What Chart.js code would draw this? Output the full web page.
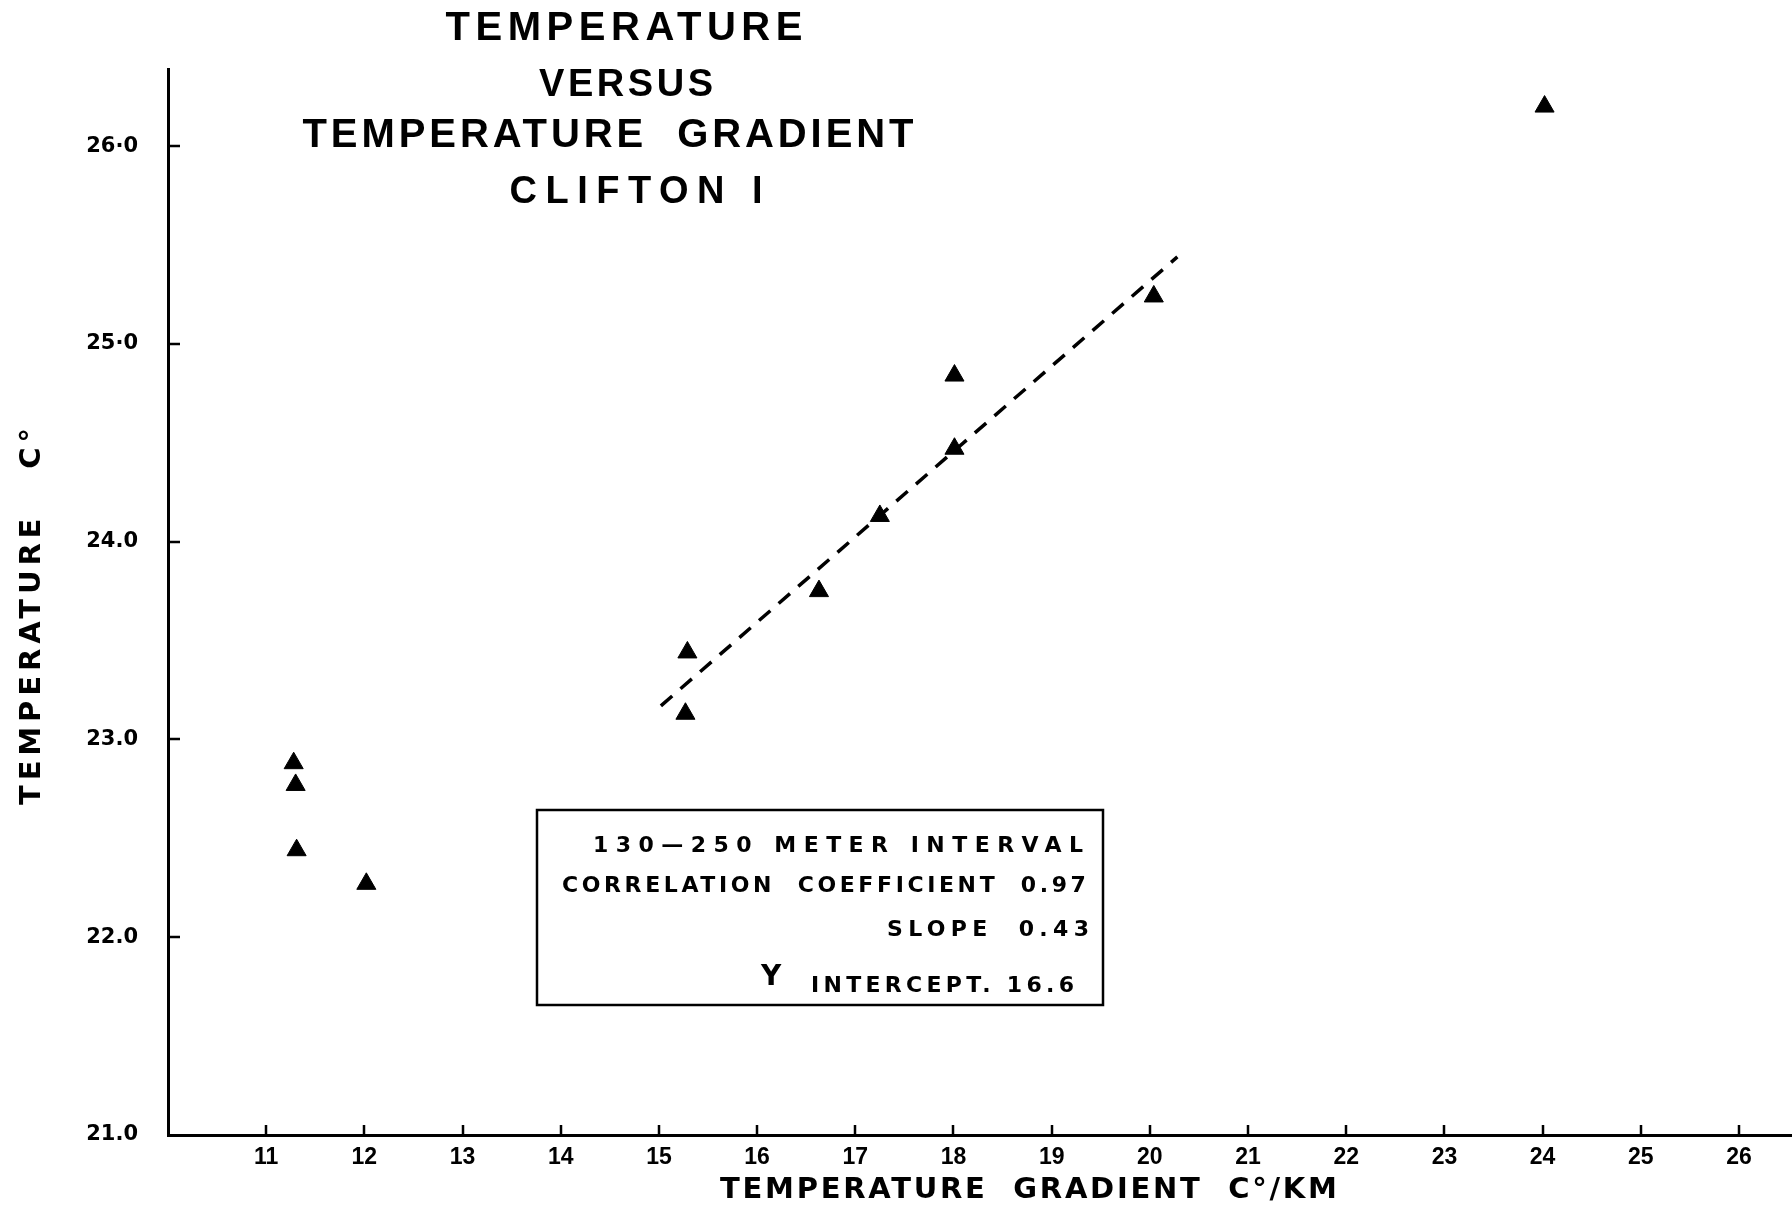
<!DOCTYPE html>
<html>
<head>
<meta charset="utf-8">
<script src="https://cdn.jsdelivr.net/npm/chart.js@4.4.1/dist/chart.umd.min.js"></script>
<style>
html,body{margin:0;padding:0;background:#fff;}
#wrap{width:1792px;height:1216px;position:relative;}
</style>
</head>
<body>
<div id="wrap"><canvas id="c" width="1792" height="1216"></canvas></div>
<script>
// ---- data ----
const gradientX = [11.28, 11.30, 11.31, 12.02, 15.27, 15.29, 16.63, 17.25, 18.01, 18.01, 20.04, 24.02];
const temperatureY = [22.88, 22.77, 22.44, 22.27, 23.13, 23.44, 23.75, 24.13, 24.47, 24.84, 25.24, 26.20];
const fitLineX = [15.02, 20.28];
const fitLineY = [23.17, 25.44];
const xTickValues = [11, 12, 13, 14, 15, 16, 17, 18, 19, 20, 21, 22, 23, 24, 25, 26];
const xTickLabels = ['11', '12', '13', '14', '15', '16', '17', '18', '19', '20', '21', '22', '23', '24', '25', '26'];
const yTickValues = [21, 22, 23, 24, 25, 26];
const yTickLabels = ['21.0', '22.0', '23.0', '24.0', '25·0', '26·0'];
const titleLines = ['TEMPERATURE', 'VERSUS', 'TEMPERATURE  GRADIENT', 'CLIFTON I'];
const statLines = ['130—250 METER INTERVAL', 'CORRELATION  COEFFICIENT  0.97', 'SLOPE  0.43', 'Y', 'INTERCEPT. 16.6'];
const xAxisTitle = 'TEMPERATURE  GRADIENT  C°/KM';
const yAxisTitle = 'TEMPERATURE   C°';

// ---- layout / style ----
const FONT = '"Liberation Sans", "DejaVu Sans", sans-serif';
const HEAVY = '"DejaVu Sans", "Liberation Sans", sans-serif';
const titleLayout = [
  {cx: 624, cy: 29, w: 357, size: 40},
  {cx: 626, cy: 86, w: 174, size: 38},
  {cx: 608, cy: 136, w: 611, size: 40},
  {cx: 636, cy: 193, w: 253, size: 38}
];
const statLayout = [
  {l: 593, r: 1083, cy: 846, size: 22},
  {l: 562, r: 1086, cy: 886, size: 22},
  {l: 887, r: 1089, cy: 930, size: 22},
  {l: 761, r: 778, cy: 978, size: 28},
  {l: 811, r: 1074, cy: 986, size: 22}
];
const box = {x: 537, y: 810, w: 566, h: 195};

function fitText(ctx, text, left, cy, size, width, family) {
  ctx.font = 'bold ' + size + 'px ' + (family || FONT);
  if ('letterSpacing' in ctx) ctx.letterSpacing = '0px';
  const w0 = ctx.measureText(text).width;
  let sp = 0;
  if (text.length > 1) sp = (width - w0) / (text.length - 1);
  if ('letterSpacing' in ctx) ctx.letterSpacing = sp.toFixed(2) + 'px';
  ctx.textAlign = 'left';
  ctx.textBaseline = 'middle';
  ctx.fillText(text, left, cy);
  if ('letterSpacing' in ctx) ctx.letterSpacing = '0px';
}

const decor = {
  id: 'decor',
  afterDraw(chart) {
    const ctx = chart.ctx;
    const xs = chart.scales.x, ys = chart.scales.y;
    ctx.save();
    ctx.strokeStyle = '#000';
    ctx.fillStyle = '#000';
    // inward tick marks
    ctx.lineWidth = 2.5;
    ctx.beginPath();
    yTickValues.forEach(v => {
      if (v === ys.min) return;
      const py = Math.round(ys.getPixelForValue(v));
      ctx.moveTo(xs.left, py);
      ctx.lineTo(xs.left + 12, py);
    });
    xTickValues.forEach(v => {
      const px = Math.round(xs.getPixelForValue(v));
      ctx.moveTo(px, ys.bottom);
      ctx.lineTo(px, ys.bottom - 10);
    });
    ctx.stroke();
    // title
    titleLines.forEach((t, i) => {
      const L = titleLayout[i];
      fitText(ctx, t, L.cx - L.w / 2, L.cy, L.size, L.w);
    });
    // statistics box
    ctx.lineWidth = 2.5;
    ctx.strokeRect(box.x, box.y, box.w, box.h);
    statLines.forEach((t, i) => {
      const L = statLayout[i];
      fitText(ctx, t, L.l, L.cy, L.size, L.r - L.l, HEAVY);
    });
    // axis titles
    fitText(ctx, xAxisTitle, 720, 1190, 29, 617, HEAVY);
    ctx.save();
    ctx.translate(32, 617);
    ctx.rotate(-Math.PI / 2);
    fitText(ctx, yAxisTitle, -188, 0, 29, 377, HEAVY);
    ctx.restore();
    ctx.restore();
  }
};

new Chart(document.getElementById('c').getContext('2d'), {
  type: 'scatter',
  data: {
    datasets: [
      {
        label: 'Temperature',
        data: gradientX.map((x, i) => ({x: x, y: temperatureY[i]})),
        pointStyle: 'triangle',
        pointRadius: 11,
        pointHoverRadius: 11,
        backgroundColor: '#000',
        borderColor: '#000',
        borderWidth: 1
      },
      {
        type: 'line',
        label: 'Fit',
        data: fitLineX.map((x, i) => ({x: x, y: fitLineY[i]})),
        borderColor: '#000',
        borderWidth: 3.5,
        borderDash: [15, 11],
        pointRadius: 0,
        fill: false,
        tension: 0
      }
    ]
  },
  options: {
    responsive: false,
    animation: false,
    devicePixelRatio: 1,
    layout: {autoPadding: false, padding: {top: 69, right: 0, left: 0, bottom: 0}},
    plugins: {legend: {display: false}, tooltip: {enabled: false}, title: {display: false}},
    scales: {
      x: {
        type: 'linear',
        min: 10,
        max: 26.54,
        afterBuildTicks: s => { s.ticks = xTickValues.map(v => ({value: v})); },
        afterFit: s => { s.height = 81; s.paddingLeft = 0; s.paddingRight = 0; },
        grid: {display: false, drawTicks: false},
        border: {display: true, color: '#000', width: 3},
        ticks: {
          color: '#000',
          font: {family: FONT, weight: 'bold', size: 23},
          padding: 9,
          maxRotation: 0,
          autoSkip: false,
          callback: v => xTickLabels[xTickValues.indexOf(v)]
        }
      },
      y: {
        type: 'linear',
        min: 21,
        max: 26.39,
        afterBuildTicks: s => { s.ticks = yTickValues.map(v => ({value: v})); },
        afterFit: s => { s.width = 168; },
        grid: {display: false, drawTicks: false},
        border: {display: true, color: '#000', width: 3},
        ticks: {
          color: '#000',
          font: {family: HEAVY, weight: 'bold', size: 21},
          padding: 30,
          autoSkip: false,
          callback: v => yTickLabels[yTickValues.indexOf(v)]
        }
      }
    }
  },
  plugins: [decor]
});
</script>
</body>
</html>
